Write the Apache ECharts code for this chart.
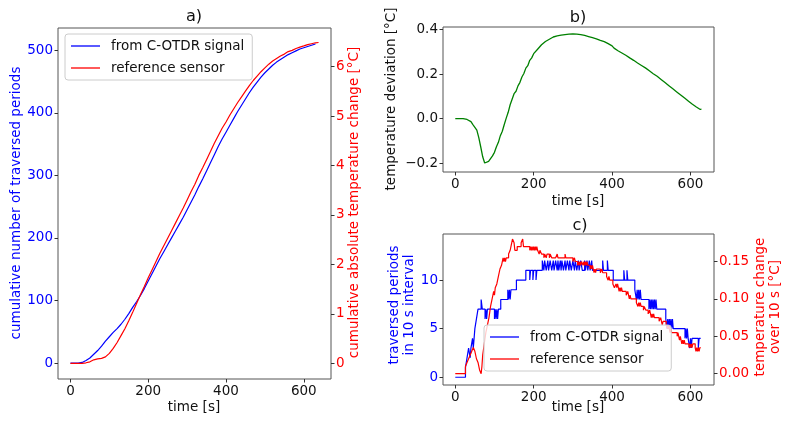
<!DOCTYPE html>
<html><head><meta charset="utf-8">
<script src="https://cdn.jsdelivr.net/npm/echarts@6/dist/echarts.min.js"></script>
<style>html,body{margin:0;padding:0;background:#fff}#c{width:790px;height:424px}</style>
</head><body><div id="c"></div>
<script>
// ---- panel a) cumulative curves ----
const aTime = [0,10,20,30,40,50,60,70,80,90,100,110,120,130,140,150,160,170,180,190,200,210,220,230,240,250,260,270,280,290,300,310,320,330,340,350,360,370,380,390,400,410,420,430,440,450,460,470,480,490,500,510,520,530,540,550,560,570,580,590,600,610,620,630];
const aPeriods = [0,0,0,1,4,8,14,20,27,35,42,49,55,62,70,79,89,98,108,119,131,143,155,167,178,189,200,211,222,233,245,257,269,282,294,307,320,333,346,358,369,380,391,402,412,422,432,441,449,457,464,470,476,481,485,489,493,496,499,502,504,506,508,510];
const aRefTime = [0,10,20,30,40,50,60,70,80,90,100,110,120,130,140,150,160,170,180,190,200,210,220,230,240,250,260,270,280,290,300,310,320,330,340,350,360,370,380,390,400,410,420,430,440,450,460,470,480,490,500,510,520,530,540,550,560,570,580,590,600,610,620,630,638];
const aRefChange = [0,0,0,0,0.01,0.03,0.07,0.09,0.1,0.13,0.2,0.3,0.42,0.56,0.7,0.86,1.03,1.21,1.386,1.551,1.729,1.894,2.059,2.225,2.377,2.53,2.682,2.835,2.988,3.14,3.305,3.471,3.623,3.801,3.954,4.119,4.284,4.45,4.602,4.755,4.882,5.022,5.149,5.276,5.39,5.505,5.619,5.721,5.81,5.899,5.975,6.051,6.115,6.166,6.217,6.255,6.306,6.331,6.369,6.395,6.42,6.446,6.465,6.484,6.49];
const aTicksLeft = [0,100,200,300,400,500];
const aTicksRight = [0,1,2,3,4,5,6];

// ---- panel b) temperature deviation ----
const bTime = [0,5,10,15,20,25,30,35,40,45,50,55,60,65,70,75,80,85,90,95,100,105,110,115,120,125,130,135,140,145,150,155,160,165,170,175,180,185,190,195,200,205,210,215,220,225,230,235,240,245,250,255,260,265,270,275,280,285,290,295,300,305,310,315,320,325,330,335,340,345,350,355,360,365,370,375,380,385,390,395,400,405,410,415,420,425,430,435,440,445,450,455,460,465,470,475,480,485,490,495,500,505,510,515,520,525,530,535,540,545,550,555,560,565,570,575,580,585,590,595,600,605,610,615,620,625,628];
const bDeviation = [0,0,0,0,0,-0.001,-0.004,-0.01,-0.014,-0.027,-0.031,-0.052,-0.086,-0.128,-0.172,-0.2,-0.207,-0.193,-0.187,-0.168,-0.152,-0.127,-0.107,-0.077,-0.057,-0.027,0.002,0.028,0.062,0.087,0.112,0.123,0.147,0.163,0.187,0.203,0.227,0.238,0.262,0.273,0.292,0.298,0.312,0.318,0.332,0.336,0.347,0.348,0.357,0.358,0.367,0.366,0.372,0.37,0.375,0.373,0.378,0.375,0.38,0.376,0.381,0.377,0.38,0.375,0.378,0.373,0.374,0.368,0.369,0.363,0.364,0.358,0.359,0.352,0.352,0.345,0.346,0.338,0.337,0.328,0.327,0.317,0.315,0.305,0.304,0.295,0.294,0.285,0.283,0.273,0.271,0.262,0.26,0.25,0.249,0.239,0.237,0.228,0.226,0.215,0.213,0.202,0.2,0.19,0.187,0.176,0.173,0.162,0.159,0.148,0.145,0.134,0.131,0.12,0.117,0.106,0.103,0.092,0.089,0.078,0.075,0.064,0.062,0.052,0.05,0.041,0.042];
const bTicksY = [-0.2,0,0.2,0.4];

// ---- panel c) 10 s interval values ----
const cBlueTime = [0,26,30,34,38,40,44,46,48,50,54,58,66,69,76,78,80,82,100,102,104,106,108,110,116,134,136,138,140,142,156,180,190,192,198,200,206,208,222,226,228,232,236,238,242,246,250,252,256,260,262,264,268,270,272,276,280,282,286,290,292,296,300,304,306,310,314,316,320,324,330,332,336,338,342,344,348,350,376,378,388,390,403,430,432,438,440,458,462,464,466,468,470,472,474,494,496,498,500,502,504,506,508,510,512,514,537,540,542,544,546,548,550,552,554,556,586,588,590,592,594,598,600,602,604,620,622,626];
const cBlueCount = [0,1,2,3,2,3,4,3,4,5,6,7,8,7,6,7,6,7,6,7,6,7,6,7,8,9,8,9,8,9,10,11,10,11,10,11,10,11,12,11,12,11,12,11,12,11,12,11,12,11,12,11,12,11,12,11,12,11,12,11,12,11,12,11,12,11,12,11,12,11,12,11,12,11,12,11,12,11,12,11,12,11,10,11,10,11,10,9,8,9,8,9,8,9,8,7,8,7,8,7,8,7,8,7,8,7,6,5,6,5,6,5,6,5,6,5,4,5,4,5,4,3,4,3,4,3,4,4];
const cRedTime = [0,26,30,34,38,42,46,50,54,58,62,66,68,70,74,78,82,86,90,92,94,96,98,100,102,106,110,114,118,120,122,124,126,128,130,136,140,144,146,150,152,158,168,172,174,190,192,194,196,198,200,202,204,206,208,210,214,216,220,226,228,232,234,240,242,246,256,260,262,270,280,282,300,304,306,312,314,316,318,320,322,326,328,330,332,334,336,338,344,346,348,350,352,354,356,358,360,370,374,376,386,390,392,394,402,406,410,412,414,416,418,420,422,424,426,436,440,442,444,446,448,462,466,468,470,472,474,480,482,486,492,496,498,500,502,504,506,508,520,524,526,528,530,538,542,544,546,548,550,552,566,568,570,572,574,576,578,580,582,584,586,596,598,600,602,604,606,612,614,616,618,620,622,624,626];
const cRedChange = [0,0.01,0.015,0.02,0.025,0.03,0.035,0.03,0.02,0.015,0.005,0,0.01,0.025,0.04,0.055,0.065,0.075,0.09,0.095,0.1,0.105,0.11,0.105,0.115,0.12,0.13,0.14,0.145,0.15,0.155,0.15,0.155,0.15,0.155,0.16,0.165,0.175,0.18,0.175,0.165,0.17,0.175,0.18,0.17,0.165,0.17,0.165,0.17,0.165,0.17,0.165,0.17,0.165,0.17,0.165,0.16,0.165,0.16,0.155,0.16,0.155,0.16,0.155,0.16,0.155,0.155,0.16,0.155,0.155,0.16,0.155,0.15,0.155,0.15,0.145,0.15,0.145,0.15,0.145,0.15,0.145,0.15,0.145,0.15,0.145,0.15,0.145,0.14,0.145,0.14,0.145,0.14,0.135,0.14,0.135,0.14,0.135,0.14,0.135,0.13,0.125,0.13,0.125,0.12,0.115,0.12,0.115,0.12,0.115,0.11,0.115,0.11,0.115,0.11,0.105,0.11,0.105,0.1,0.105,0.1,0.095,0.09,0.095,0.09,0.095,0.09,0.085,0.09,0.085,0.08,0.085,0.08,0.075,0.08,0.075,0.08,0.075,0.07,0.075,0.07,0.065,0.07,0.065,0.06,0.065,0.06,0.055,0.06,0.055,0.05,0.055,0.05,0.045,0.05,0.045,0.04,0.045,0.04,0.045,0.04,0.035,0.04,0.035,0.04,0.035,0.04,0.035,0.03,0.035,0.03,0.035,0.03,0.035,0.035];
const cTicksLeft = [0,5,10];
const cTicksRight = [0,0.05,0.1,0.15];
const xTicks = [0,200,400,600];

const zip = (t, v) => t.map((x, i) => [x, v[i]]);

const FONT = 'DejaVu Sans';
const FS = 13.5;
const BLUE = '#0000ff', RED = '#ff0000', GREEN = '#008000', INK = '#111111', SPINE = '#555555';

function xAxis(grid, min, max) {
  return {
    type: 'value', gridIndex: grid, min: min, max: max, position: 'bottom',
    axisLine: { show: false, onZero: false },
    splitLine: { show: false },
    axisTick: { show: true, inside: false, length: 3.5, lineStyle: { color: '#333333' }, customValues: xTicks },
    axisLabel: { customValues: xTicks, margin: 5, fontFamily: FONT, fontSize: FS, color: INK }
  };
}
function yAxis(grid, min, max, ticks, color, pos, fmt) {
  return {
    type: 'value', gridIndex: grid, min: min, max: max, position: pos,
    axisLine: { show: false, onZero: false },
    splitLine: { show: false },
    axisTick: { show: true, inside: false, length: 3.5, lineStyle: { color: '#333333' }, customValues: ticks },
    axisLabel: { customValues: ticks, margin: 5, fontFamily: FONT, fontSize: FS, color: color, formatter: fmt }
  };
}
const minus = v => (v < 0 ? '\u2212' : '') + Math.abs(v).toFixed(1);

function txt(x, y, text, color, size, rot, lh) {
  return {
    type: 'text', x: x, y: y, rotation: rot || 0, z: 100,
    style: { text: text, fill: color, fontFamily: FONT, fontSize: size, align: 'center', verticalAlign: 'middle', lineHeight: lh || size * 1.15 }
  };
}

function legend(left, top) {
  return {
    left: left, top: top, orient: 'vertical',
    data: ['from C-OTDR signal', 'reference sensor'],
    icon: 'rect',
    itemWidth: 29, itemHeight: 1.3, itemGap: 8,
    padding: [5, 8, 5, 6],
    backgroundColor: 'rgba(255,255,255,0.8)',
    borderColor: '#cccccc', borderWidth: 1, borderRadius: 3,
    selectedMode: false,
    textStyle: { fontFamily: FONT, fontSize: FS, color: INK, lineHeight: 14, padding: [0, 0, 0, 6] },
    z: 20
  };
}

const chart = echarts.init(document.getElementById('c'), null, { renderer: 'canvas' });
chart.setOption({
  animation: false,
  backgroundColor: '#ffffff',
  grid: [
    { left: 58, top: 28, width: 273, height: 351, show: true, borderColor: SPINE, borderWidth: 1, backgroundColor: 'transparent' },
    { left: 443, top: 27, width: 271, height: 145, show: true, borderColor: SPINE, borderWidth: 1, backgroundColor: 'transparent' },
    { left: 443, top: 234, width: 271, height: 151, show: true, borderColor: SPINE, borderWidth: 1, backgroundColor: 'transparent' }
  ],
  xAxis: [ xAxis(0, -32, 670), xAxis(1, -31.3, 660), xAxis(2, -31.3, 660) ],
  yAxis: [
    yAxis(0, -25.5, 535.5, aTicksLeft, BLUE, 'left'),
    yAxis(0, -0.318, 6.783, aTicksRight, RED, 'right'),
    yAxis(1, -0.2405, 0.412, bTicksY, INK, 'left', minus),
    yAxis(2, -0.8, 14.74, cTicksLeft, BLUE, 'left'),
    yAxis(2, -0.0151, 0.1868, cTicksRight, RED, 'right', v => v.toFixed(2))
  ],
  legend: [ legend(65, 34), legend(484, 325) ],
  series: [
    { name: 'from C-OTDR signal', type: 'line', xAxisIndex: 0, yAxisIndex: 0, symbol: 'none', data: zip(aTime, aPeriods), lineStyle: { color: BLUE, width: 1.2 }, itemStyle: { color: BLUE } },
    { name: 'reference sensor', type: 'line', xAxisIndex: 0, yAxisIndex: 1, symbol: 'none', data: zip(aRefTime, aRefChange), lineStyle: { color: RED, width: 1.2 }, itemStyle: { color: RED } },
    { name: 'deviation', type: 'line', xAxisIndex: 1, yAxisIndex: 2, symbol: 'none', data: zip(bTime, bDeviation), lineStyle: { color: GREEN, width: 1.3 }, itemStyle: { color: GREEN } },
    { name: 'from C-OTDR signal', type: 'line', xAxisIndex: 2, yAxisIndex: 3, symbol: 'none', step: 'end', data: zip(cBlueTime, cBlueCount), lineStyle: { color: BLUE, width: 1.2 }, itemStyle: { color: BLUE } },
    { name: 'reference sensor', type: 'line', xAxisIndex: 2, yAxisIndex: 4, symbol: 'none', step: 'end', data: zip(cRedTime, cRedChange), lineStyle: { color: RED, width: 1.2 }, itemStyle: { color: RED } }
  ],
  graphic: [
    txt(194, 17, 'a)', INK, 16.2),
    txt(578, 18, 'b)', INK, 16.2),
    txt(580, 226, 'c)', INK, 16.2),
    txt(194, 407, 'time [s]', INK, FS),
    txt(578, 201.5, 'time [s]', INK, FS),
    txt(578, 407.5, 'time [s]', INK, FS),
    txt(16, 203, 'cumulative number of traversed periods', BLUE, FS, Math.PI / 2),
    txt(354, 202.5, 'cumulative absolute temperature change [°C]', RED, FS, Math.PI / 2),
    txt(391, 99, 'temperature deviation [°C]', INK, FS, Math.PI / 2),
    txt(402, 305, 'traversed periods\nin 10 s interval', BLUE, FS, Math.PI / 2, 14.5),
    txt(768, 307, 'temperature change\nover 10 s [°C]', RED, FS, Math.PI / 2, 14.5)
  ]
});
</script>
</body></html>
